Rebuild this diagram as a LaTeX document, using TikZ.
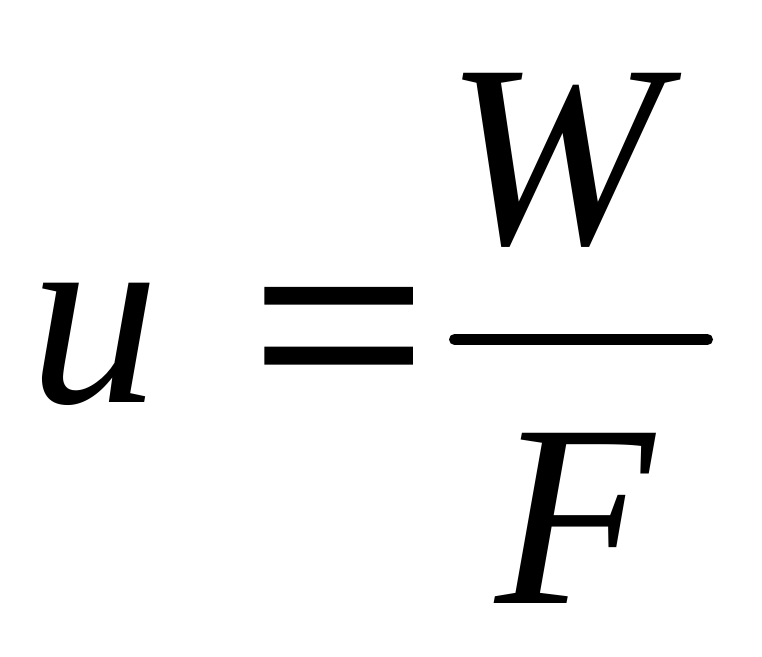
\documentclass[tikz,border=0pt]{standalone}
\usepackage{fontspec}
\setmainfont{Liberation Serif}
\newfontfamily\eqfont[FakeBold=1]{Liberation Serif}
\begin{document}
\begin{tikzpicture}[x=1pt,y=1pt,
  big/.style={font=\fontsize{260}{260}\selectfont, inner sep=0pt, anchor=base},
  letter/.style={big, font=\fontsize{260}{260}\selectfont\itshape},
  eqsign/.style={inner sep=0pt, anchor=base, font=\fontsize{260}{260}\selectfont\eqfont, xscale=1.2, yscale=1.15}]
\useasboundingbox (0,0) rectangle (762,656);
\node[letter] (u) at (94,253) {u};
\node[eqsign] (eq) at (338.5,231) {=};
\node[letter] (W) at (554,412) {W};
\node[letter] (F) at (575,53) {F};
\coordinate (b1) at (454.5,316.5);
\coordinate (b2) at (707.5,316.5);
\draw[line width=11pt, line cap=round] (b1) -- (b2);
\end{tikzpicture}
\end{document}
